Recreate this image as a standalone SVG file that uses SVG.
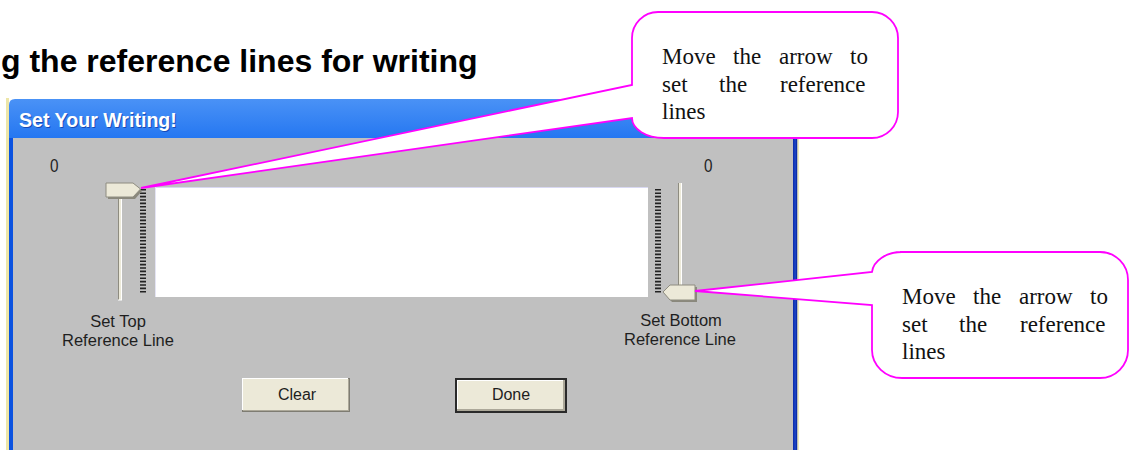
<svg xmlns="http://www.w3.org/2000/svg" width="1130" height="450" viewBox="0 0 1130 450">
  <defs>
    <linearGradient id="titleGrad" x1="0" y1="0" x2="0" y2="1">
      <stop offset="0" stop-color="#4A92F6"/>
      <stop offset="0.18" stop-color="#0E66EE"/>
      <stop offset="0.75" stop-color="#0058E2"/>
      <stop offset="1" stop-color="#0046C6"/>
    </linearGradient>
    <linearGradient id="rightBorder" x1="0" y1="0" x2="1" y2="0">
      <stop offset="0" stop-color="#0A2BA6"/>
      <stop offset="0.5" stop-color="#1C46C8"/>
      <stop offset="1" stop-color="#001C8C"/>
    </linearGradient>
    <style>
      .lbl { font-family: "Liberation Sans", Arial, sans-serif; font-size: 16.5px; fill: #1E1E1E; }
      .zero { font-family: "Liberation Sans", Arial, sans-serif; font-size: 18px; fill: #1E1E1E; }
      .btnTxt { font-family: "Liberation Sans", Arial, sans-serif; font-size: 16px; fill: #1E1E1E; text-anchor: middle; }
      .callout { fill: #FFFFFF; stroke: #FF00FF; stroke-width: 1.8; stroke-linejoin: miter; }
      .ctxt { font-family: "Liberation Serif", "Times New Roman", serif; font-size: 23px; fill: #111111; }
      .thumb { fill: #ECE9D8; stroke: #8E8C80; stroke-width: 1; }
      .ticks { stroke: #222222; stroke-width: 6; stroke-dasharray: 1.6 1.8; fill: none; }
      .btn { fill: #ECE9D8; }
    </style>
  </defs>

  <rect x="0" y="0" width="1130" height="450" fill="#FFFFFF"/>

  <g id="heading">
    <text x="1" y="72" font-family="Liberation Sans, Arial, sans-serif" font-weight="bold" font-size="32" fill="#000000">g the reference lines for writing</text>
  </g>

  <g id="window">
    <rect x="6" y="98" width="3" height="352" fill="#EDE6A8"/>
    <path d="M9,105 Q9,99 15,99 H797 V450 H9 Z" fill="url(#titleGrad)"/>
    <rect x="9" y="138" width="4.5" height="312" fill="#0A52E0"/>
    <rect x="13" y="138" width="780" height="312" fill="#C0C0C0"/>
    <rect x="793" y="138" width="4.5" height="312" fill="url(#rightBorder)"/>
    <rect x="797.5" y="99" width="1.5" height="351" fill="#EEEAB8"/>
    <text x="19" y="127" font-family="Liberation Sans, Arial, sans-serif" font-weight="bold" font-size="19.6" fill="#0A2A8C" opacity="0.6" transform="translate(1,1)">Set Your Writing!</text>
    <text x="19" y="127" font-family="Liberation Sans, Arial, sans-serif" font-weight="bold" font-size="19.6" fill="#FFFFFF">Set Your Writing!</text>
  </g>

  <g id="writing-area">
    <rect x="155" y="187" width="493" height="110" fill="#FFFFFF"/>
    <line x1="155" y1="187.5" x2="648" y2="187.5" stroke="#D8D8F2" stroke-width="1"/>
    <line x1="155.5" y1="187" x2="155.5" y2="297" stroke="#E4E4F4" stroke-width="1"/>
  </g>

  <g id="slider-top">
    <text class="zero" x="50" y="172" textLength="8.5" lengthAdjust="spacingAndGlyphs">0</text>
    <rect x="118" y="190" width="4" height="110" fill="#ECE9D8"/>
    <line x1="118.5" y1="190" x2="118.5" y2="300" stroke="#8E8C80" stroke-width="1"/>
    <line x1="121.5" y1="190" x2="121.5" y2="300" stroke="#FFFFFF" stroke-width="1"/>
    <line x1="118" y1="300" x2="122" y2="300" stroke="#FFFFFF" stroke-width="1"/>
    <line class="ticks" x1="143" y1="189" x2="143" y2="294"/>
    <polygon points="108,185 135,185 142,191 135,199 108,199" fill="#8A887C"/>
    <polygon class="thumb" points="106,183 133,183 140.5,189 133,197 106,197"/>
    <text class="lbl" x="118" y="327" text-anchor="middle">Set Top</text>
    <text class="lbl" x="118" y="346" text-anchor="middle">Reference Line</text>
  </g>

  <g id="slider-bottom">
    <text class="zero" x="704" y="172" textLength="8.5" lengthAdjust="spacingAndGlyphs">0</text>
    <rect x="678" y="183" width="4" height="103" fill="#ECE9D8"/>
    <line x1="678.5" y1="183" x2="678.5" y2="286" stroke="#8E8C80" stroke-width="1"/>
    <line x1="681.5" y1="183" x2="681.5" y2="286" stroke="#FFFFFF" stroke-width="1"/>
    <line class="ticks" x1="658" y1="189" x2="658" y2="294"/>
    <polygon points="697,287 672,287 665,294 672,302 697,302" fill="#8A887C"/>
    <polygon class="thumb" points="695,285 670,285 663,292 670,300 695,300"/>
    <text class="lbl" x="681" y="326" text-anchor="middle">Set Bottom</text>
    <text class="lbl" x="680" y="345" text-anchor="middle">Reference Line</text>
  </g>

  <g id="button-clear">
    <rect x="242" y="378" width="108" height="34" fill="#7E7C72"/>
    <rect x="242" y="378" width="106" height="32" fill="#FFFFFF"/>
    <rect x="243" y="379" width="105" height="31" class="btn"/>
    <rect x="243" y="410" width="106" height="1" fill="#ACA899"/>
    <rect x="348" y="379" width="1" height="32" fill="#ACA899"/>
    <text class="btnTxt" x="297" y="400">Clear</text>
  </g>

  <g id="button-done">
    <rect x="455" y="378" width="112" height="35" fill="#2A2A2A"/>
    <rect x="457" y="380" width="108" height="31" fill="#ACA899"/>
    <rect x="457" y="380" width="106" height="29" fill="#FFFFFF"/>
    <rect x="458" y="381" width="105" height="28" class="btn"/>
    <text class="btnTxt" x="511" y="400">Done</text>
  </g>

  <g id="connectors">
    <path id="callout-top" class="callout" d="M658,12 H872 A26,26 0 0 1 898,38 V112 A26,26 0 0 1 872,138 H664 A32,20 0 0 1 632,118 L141,188 L632,85 V38 A26,26 0 0 1 658,12 Z"/>
    <path id="callout-right" class="callout" d="M900,252 H1100 A28,28 0 0 1 1128,280 V350 A28,28 0 0 1 1100,378 H902 A30,28 0 0 1 872,350 V305 L695,291 L872,272 A30,22 0 0 1 902,252 Z"/>
  </g>

  <g id="note-top">
    <text class="ctxt" y="64"><tspan x="662">Move</tspan><tspan x="733">the</tspan><tspan x="779">arrow</tspan><tspan x="850">to</tspan></text>
    <text class="ctxt" y="92"><tspan x="662">set</tspan><tspan x="719">the</tspan><tspan x="780">reference</tspan></text>
    <text class="ctxt" x="662" y="119">lines</text>
  </g>

  <g id="note-right">
    <text class="ctxt" y="304"><tspan x="902">Move</tspan><tspan x="973">the</tspan><tspan x="1019">arrow</tspan><tspan x="1090">to</tspan></text>
    <text class="ctxt" y="332"><tspan x="902">set</tspan><tspan x="959">the</tspan><tspan x="1020">reference</tspan></text>
    <text class="ctxt" x="902" y="359">lines</text>
  </g>
</svg>
